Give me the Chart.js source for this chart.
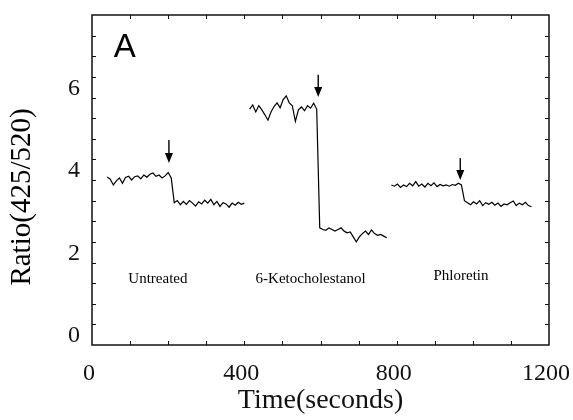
<!DOCTYPE html>
<html>
<head>
<meta charset="utf-8">
<script src="https://cdn.jsdelivr.net/npm/chart.js@4.4.1/dist/chart.umd.min.js"></script>
<style>
  html, body { margin: 0; padding: 0; background: #fff; }
  #wrap { width: 573px; height: 420px; }
</style>
</head>
<body>
<div id="wrap"><canvas id="chart"></canvas></div>
<script>
// time (s) and ratio 425/520 for each run
var untreatedTime = [40, 48, 56, 64, 72, 80, 88, 96, 104, 112, 120, 128, 136, 144, 152, 160, 168, 176, 184, 192, 200, 208,
    216, 224, 232, 240, 248, 256, 264, 272, 280, 288, 296, 304, 312, 320, 328, 336, 344, 352, 360, 368, 376, 384, 392, 400];
var untreatedRatio = [4.07, 4.02, 3.88, 3.98, 4.05, 3.92, 4.06, 4.09, 4.00, 4.08, 4.10, 4.03, 4.12, 4.07, 4.14, 4.17, 4.09, 4.12, 4.05, 4.10, 4.18, 4.05,
    3.45, 3.50, 3.40, 3.48, 3.41, 3.50, 3.44, 3.37, 3.47, 3.42, 3.51, 3.44, 3.53, 3.40, 3.48, 3.36, 3.45, 3.42, 3.34, 3.44, 3.39, 3.46, 3.41, 3.44];

var ketoTime = [414, 422, 430, 438, 446, 454, 462, 470, 478, 486, 494, 502, 510, 518, 526, 534, 542, 550, 558, 566, 574, 582, 590,
    598, 606, 614, 622, 630, 638, 646, 654, 662, 670, 678, 686, 694, 702, 710, 718, 726, 734, 742, 750, 758, 766, 774];
var ketoRatio = [5.72, 5.82, 5.65, 5.80, 5.70, 5.58, 5.45, 5.65, 5.78, 5.87, 5.75, 5.95, 6.04, 5.87, 5.80, 5.42, 5.70, 5.77, 5.68, 5.80, 5.74, 5.86, 5.72,
    2.84, 2.80, 2.78, 2.84, 2.80, 2.76, 2.80, 2.84, 2.76, 2.72, 2.74, 2.62, 2.50, 2.62, 2.70, 2.76, 2.68, 2.79, 2.70, 2.66, 2.68, 2.64, 2.60];

var phloretinTime = [786, 794, 802, 810, 818, 826, 834, 842, 850, 858, 866, 874, 882, 890, 898, 906, 914, 922, 930, 938, 946, 954, 962, 970,
    978, 986, 994, 1002, 1010, 1018, 1026, 1034, 1042, 1050, 1058, 1066, 1074, 1082, 1090, 1098, 1106, 1114, 1122, 1130, 1138, 1146, 1154];
var phloretinRatio = [3.88, 3.85, 3.90, 3.82, 3.88, 3.84, 3.92, 3.86, 3.96, 3.85, 3.90, 3.83, 3.92, 3.86, 3.93, 3.84, 3.89, 3.86, 3.88, 3.85, 3.89, 3.87, 3.92, 3.88,
    3.50, 3.45, 3.40, 3.47, 3.42, 3.50, 3.38, 3.45, 3.41, 3.46, 3.39, 3.44, 3.36, 3.42, 3.40, 3.45, 3.49, 3.38, 3.44, 3.40, 3.46, 3.38, 3.35];

// text under each trace
var labelNames = ['Untreated', '6-Ketocholestanol', 'Phloretin'];
var labelTimes = [173, 574, 969];
var labelRatios = [1.6, 1.6, 1.67];

// arrows mark the addition time
var arrowTimes = [202, 594, 967];
var arrowTop = [4.97, 6.55, 4.53];
var arrowTip = [4.41, 6.01, 4.0];

var panelLetter = 'A';
var panelTime = 86;
var panelRatio = 7.2;

var xTickLabels = [0, 400, 800, 1200];
var yTickLabels = [0, 2, 4, 6];
var xMinorTicks = [100, 200, 300, 400, 500, 600, 700, 800, 900, 1000, 1100];
var yMinorTicks = [0.5, 1, 1.5, 2, 2.5, 3, 3.5, 4, 4.5, 5, 5.5, 6, 6.5, 7, 7.5];

var serif = "'Liberation Serif', 'Times New Roman', serif";

function toPoints(t, r) {
    return t.map(function (v, i) { return { x: v, y: r[i] }; });
}

function traceSet(label, t, r) {
    return {
        label: label,
        data: toPoints(t, r),
        borderColor: '#000',
        borderWidth: 1.2,
        pointRadius: 0,
        tension: 0,
        fill: false
    };
}

var decorPlugin = {
    id: 'decor',
    afterDatasetsDraw: function (chart) {
        var ctx = chart.ctx;
        var a = chart.chartArea;
        var xs = chart.scales.x;
        var ys = chart.scales.y;
        ctx.save();

        // frame
        ctx.strokeStyle = '#111';
        ctx.lineWidth = 1.5;
        ctx.strokeRect(a.left, a.top, a.right - a.left, a.bottom - a.top);

        // inward tick marks on all four sides
        ctx.lineWidth = 1;
        ctx.beginPath();
        xMinorTicks.forEach(function (v) {
            var px = Math.round(xs.getPixelForValue(v)) + 0.5;
            ctx.moveTo(px, a.bottom); ctx.lineTo(px, a.bottom - 4);
            ctx.moveTo(px, a.top); ctx.lineTo(px, a.top + 4);
        });
        yMinorTicks.forEach(function (v) {
            var py = Math.round(ys.getPixelForValue(v)) + 0.5;
            ctx.moveTo(a.left, py); ctx.lineTo(a.left + 4, py);
            ctx.moveTo(a.right, py); ctx.lineTo(a.right - 4, py);
        });
        ctx.stroke();

        // arrows
        ctx.fillStyle = '#000';
        ctx.lineWidth = 1.5;
        arrowTimes.forEach(function (t, i) {
            var px = xs.getPixelForValue(t);
            var top = ys.getPixelForValue(arrowTop[i]);
            var tip = ys.getPixelForValue(arrowTip[i]);
            ctx.beginPath();
            ctx.moveTo(px, top);
            ctx.lineTo(px, tip - 8);
            ctx.stroke();
            ctx.beginPath();
            ctx.moveTo(px - 4, tip - 10);
            ctx.lineTo(px + 4, tip - 10);
            ctx.lineTo(px, tip);
            ctx.closePath();
            ctx.fill();
        });

        // treatment names
        ctx.font = '15px ' + serif;
        ctx.textAlign = 'center';
        ctx.textBaseline = 'middle';
        labelNames.forEach(function (name, i) {
            ctx.fillText(name, xs.getPixelForValue(labelTimes[i]), ys.getPixelForValue(labelRatios[i]));
        });

        // panel letter
        ctx.font = "33px 'Liberation Sans', Arial, sans-serif";
        ctx.fillText(panelLetter, xs.getPixelForValue(panelTime), ys.getPixelForValue(panelRatio));

        // y axis title
        ctx.font = '29px ' + serif;
        ctx.translate(22, (a.top + a.bottom) / 2 + 17);
        ctx.rotate(-Math.PI / 2);
        ctx.fillText('Ratio(425/520)', 0, 0);

        ctx.restore();
    }
};

new Chart(document.getElementById('chart'), {
    type: 'line',
    data: {
        datasets: [
            traceSet('Untreated', untreatedTime, untreatedRatio),
            traceSet('6-Ketocholestanol', ketoTime, ketoRatio),
            traceSet('Phloretin', phloretinTime, phloretinRatio)
        ]
    },
    options: {
        responsive: true,
        maintainAspectRatio: false,
        animation: false,
        layout: { padding: { top: 15, right: 24, left: 0, bottom: 0 } },
        plugins: {
            legend: { display: false },
            tooltip: { enabled: false }
        },
        scales: {
            x: {
                type: 'linear',
                min: 0,
                max: 1200,
                afterBuildTicks: function (scale) {
                    scale.ticks = xTickLabels.map(function (v) { return { value: v }; });
                },
                afterFit: function (scale) {
                    scale.height = 75;
                    scale.paddingLeft = 0;
                    scale.paddingRight = 0;
                },
                grid: { display: false, drawTicks: false },
                border: { display: false },
                ticks: {
                    color: '#111',
                    padding: 14,
                    labelOffset: -3,
                    maxRotation: 0,
                    font: { family: serif, size: 24 },
                    callback: function (v) { return String(v); }
                },
                title: {
                    display: true,
                    text: 'Time(seconds)',
                    color: '#111',
                    padding: { top: 0, bottom: 3 },
                    font: { family: serif, size: 28 }
                }
            },
            y: {
                type: 'linear',
                min: 0,
                max: 8,
                afterBuildTicks: function (scale) {
                    scale.ticks = yTickLabels.map(function (v) { return { value: v }; });
                },
                afterFit: function (scale) {
                    scale.width = 92;
                    scale.paddingTop = 0;
                    scale.paddingBottom = 0;
                },
                grid: { display: false, drawTicks: false },
                border: { display: false },
                ticks: {
                    color: '#111',
                    padding: 12,
                    labelOffset: -9,
                    font: { family: serif, size: 24 }
                }
            }
        }
    },
    plugins: [decorPlugin]
});
</script>
</body>
</html>
